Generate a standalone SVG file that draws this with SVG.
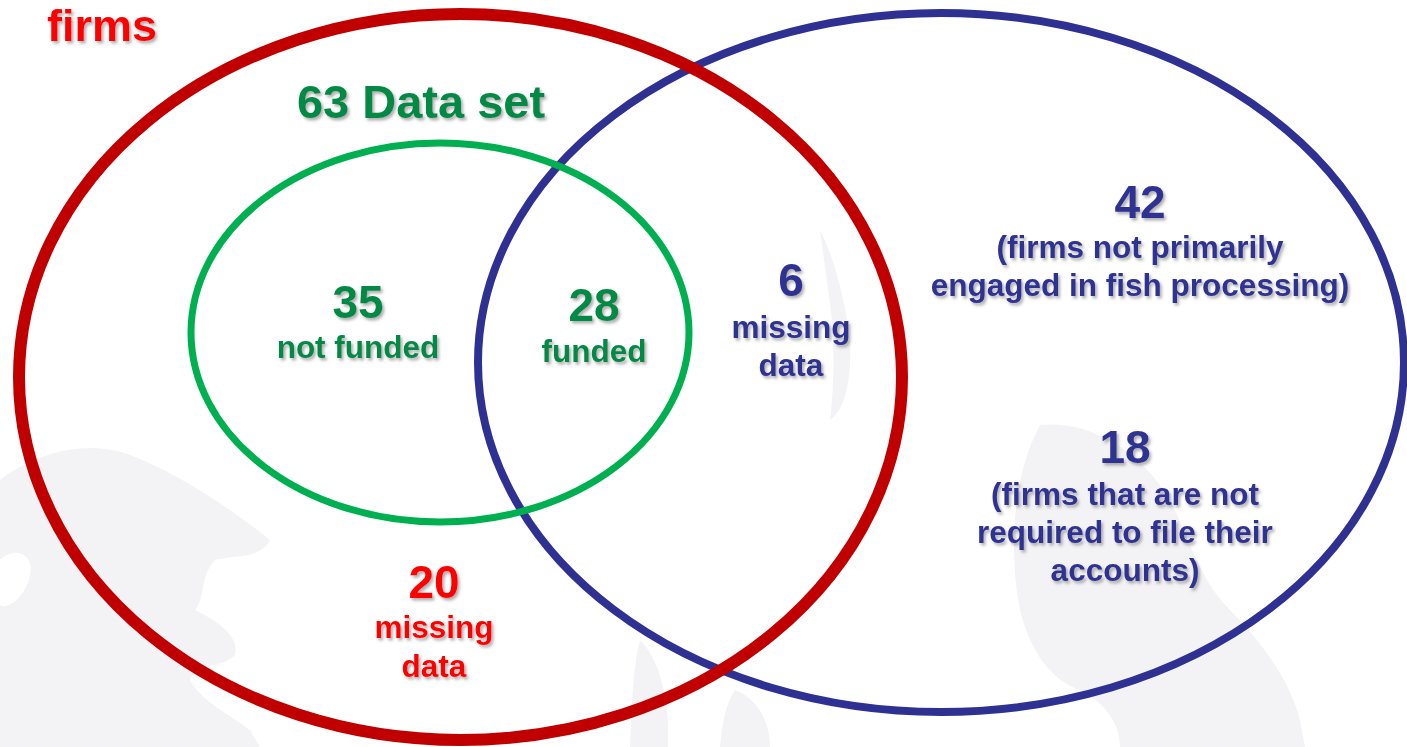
<svg xmlns="http://www.w3.org/2000/svg" width="1407" height="747" viewBox="0 0 1407 747">
  <defs>
    <filter id="shadow" x="-10%" y="-10%" width="130%" height="140%">
      <feDropShadow dx="2" dy="2.5" stdDeviation="1.4" flood-color="#6d6d6d" flood-opacity="0.55"/>
    </filter>
    <style>
      text { font-family: "Liberation Sans", Arial, sans-serif; font-weight: bold; text-anchor: middle; filter: url(#shadow); }
      .num { font-size: 46px; }
      .lbl { font-size: 31.5px; }
      .red { fill: #ff0000; }
      .grn { fill: #008a45; }
      .blu { fill: #2e3192; }
      .ring { fill: none; }
      .wm { fill: #f3f3f5; }
    </style>
  </defs>

  <rect width="1407" height="747" fill="#ffffff"/>

  <!-- faint background watermark -->
  <g id="watermark">
    <path class="wm" d="M0 480 C40 450 90 440 130 455 C170 470 220 500 270 540 C260 560 230 555 215 560 C200 575 205 600 195 610 C215 620 240 635 235 655 C220 670 200 660 190 680 C200 700 230 715 250 730 L260 747 L0 747 Z"/>
    <path d="M0 560 C15 545 35 555 30 575 C25 600 5 610 0 605 Z" fill="#ffffff"/>
    <path class="wm" d="M820 230 C835 260 845 300 850 340 C852 380 845 410 830 420 C835 380 835 330 828 290 Z"/>
    <path class="wm" d="M1040 425 C1090 420 1140 450 1170 500 C1190 540 1200 580 1230 610 C1260 640 1290 680 1300 720 L1305 747 L1120 747 C1120 720 1100 700 1080 690 C1050 680 1030 650 1020 610 C1010 560 1010 480 1040 425 Z"/>
    <path class="wm" d="M640 640 C660 660 670 700 668 747 L630 747 C632 710 632 670 640 640 Z"/>
    <path class="wm" d="M735 690 C760 700 770 725 770 747 L720 747 C722 725 725 705 735 690 Z"/>
  </g>

  <!-- Venn rings -->
  <g id="connectors">
    <ellipse id="ring-blue" class="ring" cx="941" cy="362.5" rx="463" ry="349.5" stroke="#2e3192" stroke-width="8"/>
    <ellipse id="ring-green" class="ring" cx="440" cy="332.5" rx="249" ry="189.5" stroke="#00b050" stroke-width="7"/>
    <ellipse id="ring-red" class="ring" cx="460.5" cy="377" rx="441.5" ry="363" stroke="#c00000" stroke-width="12"/>
  </g>

  <g id="firms-title"><text class="red" x="102" y="41" style="font-size:45px">firms</text></g>
  <g id="dataset-title"><text class="grn" x="421" y="118" style="font-size:47px">63 Data set</text></g>

  <g id="not-funded">
    <text class="grn num" x="358" y="318">35</text>
    <text class="grn lbl" x="358" y="358">not funded</text>
  </g>

  <g id="funded">
    <text class="grn num" x="594" y="321">28</text>
    <text class="grn lbl" x="594" y="362">funded</text>
  </g>

  <g id="missing-blue">
    <text class="blu num" x="791" y="296">6</text>
    <text class="blu lbl" x="791" y="338">missing</text>
    <text class="blu lbl" x="791" y="376">data</text>
  </g>

  <g id="not-fish-processing">
    <text class="blu num" x="1140" y="218">42</text>
    <text class="blu lbl" x="1140" y="258">(firms not primarily</text>
    <text class="blu lbl" x="1140" y="296">engaged in fish processing)</text>
  </g>

  <g id="not-required">
    <text class="blu num" x="1125" y="463">18</text>
    <text class="blu lbl" x="1125" y="505">(firms that are not</text>
    <text class="blu lbl" x="1125" y="543">required to file their</text>
    <text class="blu lbl" x="1125" y="581">accounts)</text>
  </g>

  <g id="missing-red">
    <text class="red num" x="434" y="598">20</text>
    <text class="red lbl" x="434" y="638">missing</text>
    <text class="red lbl" x="434" y="677">data</text>
  </g>
</svg>
